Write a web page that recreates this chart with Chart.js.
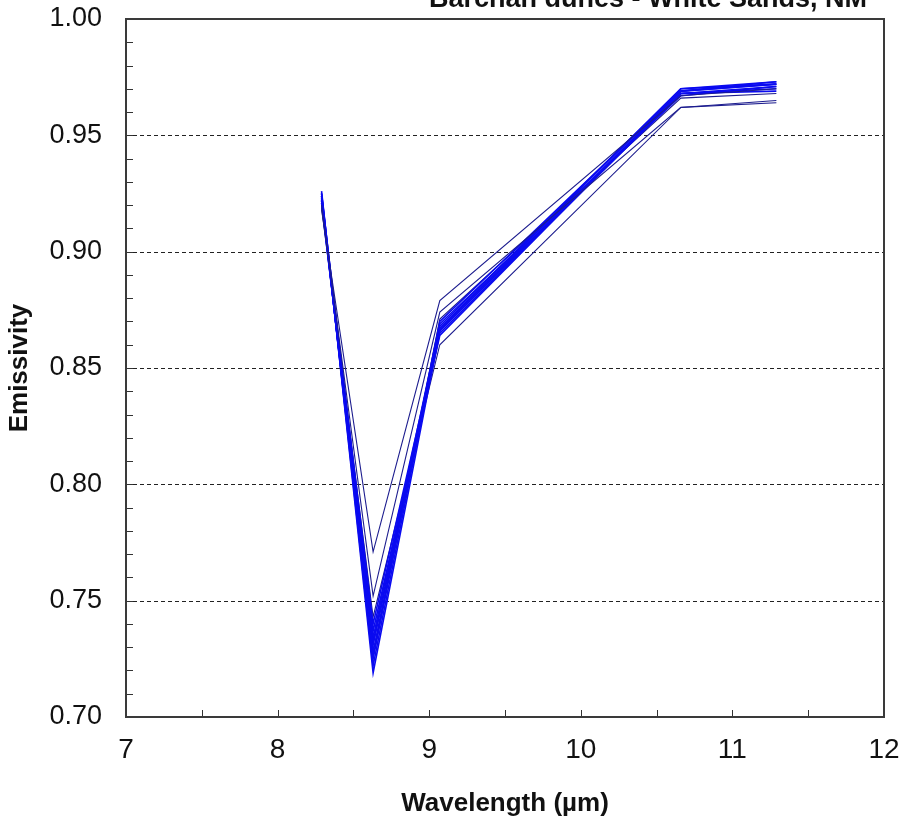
<!DOCTYPE html>
<html>
<head>
<meta charset="utf-8">
<script src="https://cdn.jsdelivr.net/npm/chart.js@4.4.1/dist/chart.umd.min.js"></script>
<style>
  html, body { margin: 0; padding: 0; background: #fff; overflow: hidden; width: 904px; height: 822px; }
  #wrap { width: 904px; height: 822px; overflow: hidden; position: relative; }
  #c { position: absolute; left: 0; top: -30px; }
</style>
</head>
<body>
<div id="wrap"><canvas id="c" width="924" height="852"></canvas></div>
<script>
// ASTER TIR band centres (µm)
const wavelengths = [8.29, 8.63, 9.07, 10.66, 11.29];

// Emissivity spectra, one per sample pixel
const spectrum01 = [0.918, 0.771, 0.879, 0.967, 0.970];
const spectrum02 = [0.920, 0.752, 0.874, 0.962, 0.964];
const spectrum03 = [0.926, 0.719, 0.866, 0.969, 0.973];
const spectrum04 = [0.925, 0.722, 0.868, 0.970, 0.972];
const spectrum05 = [0.924, 0.725, 0.870, 0.969, 0.972];
const spectrum06 = [0.923, 0.728, 0.867, 0.968, 0.971];
const spectrum07 = [0.922, 0.731, 0.865, 0.968, 0.970];
const spectrum08 = [0.921, 0.734, 0.869, 0.967, 0.971];
const spectrum09 = [0.924, 0.737, 0.864, 0.969, 0.972];
const spectrum10 = [0.922, 0.740, 0.866, 0.968, 0.969];
const spectrum11 = [0.919, 0.743, 0.860, 0.962, 0.965];
const spectrum12 = [0.923, 0.726, 0.871, 0.966, 0.968];
const spectrum13 = [0.925, 0.732, 0.867, 0.970, 0.973];

const spectra = [spectrum01, spectrum02, spectrum03, spectrum04, spectrum05, spectrum06,
                 spectrum07, spectrum08, spectrum09, spectrum10, spectrum11, spectrum12, spectrum13];
const darkSpectra = [0, 1, 10, 11];

const xTicks = [7, 8, 9, 10, 11, 12];
const yTicks = [0.70, 0.75, 0.80, 0.85, 0.90, 0.95, 1.00];

const titleText = 'Barchan dunes - White Sands, NM';
const FONT = "'Liberation Sans', Arial, sans-serif";

// Canvas is shifted 30px up, so the heading runs off the top edge
const SHIFT = 30;
const AREA = { left: 126, top: 19 + SHIFT, right: 884, bottom: 717 + SHIFT };

const datasets = spectra.map((vals, i) => ({
  data: vals.map((v, k) => ({ x: wavelengths[k], y: v })),
  borderColor: darkSpectra.includes(i) ? '#1c1c8e' : '#0a0af0',
  borderWidth: darkSpectra.includes(i) ? 1.1 : 1.6,
  pointRadius: 0,
  tension: 0,
  fill: false
}));

// Frame, dashed gridlines, inward minor ticks and the heading
const framePlugin = {
  id: 'frame',
  beforeDatasetsDraw(chart) {
    const { ctx, chartArea: a, scales: { x, y } } = chart;
    ctx.save();
    ctx.strokeStyle = '#222';
    ctx.lineWidth = 1;
    ctx.setLineDash([4, 3]);
    yTicks.slice(1, -1).forEach(v => {
      const py = Math.round(y.getPixelForValue(v)) + 0.5;
      ctx.beginPath(); ctx.moveTo(a.left, py); ctx.lineTo(a.right, py); ctx.stroke();
    });
    ctx.setLineDash([]);
    ctx.strokeStyle = '#333';
    for (let i = 1; i < 30; i++) {
      const py = Math.round(y.getPixelForValue(0.70 + i * 0.01)) + 0.5;
      ctx.beginPath(); ctx.moveTo(a.left, py); ctx.lineTo(a.left + 7, py); ctx.stroke();
    }
    for (let i = 1; i < 10; i++) {
      const px = Math.round(x.getPixelForValue(7 + i * 0.5)) + 0.5;
      ctx.beginPath(); ctx.moveTo(px, a.bottom); ctx.lineTo(px, a.bottom - 7); ctx.stroke();
    }
    ctx.restore();
  },
  afterDraw(chart) {
    const { ctx, chartArea: a } = chart;
    ctx.save();
    ctx.strokeStyle = '#3a3a3a';
    ctx.lineWidth = 2;
    ctx.strokeRect(a.left, a.top, a.right - a.left, a.bottom - a.top);
    ctx.fillStyle = '#111';
    ctx.font = 'bold 27px ' + FONT;
    ctx.textAlign = 'center';
    ctx.textBaseline = 'alphabetic';
    ctx.fillText(titleText, 648, 7 + SHIFT);
    ctx.restore();
  }
};

const chart = new Chart(document.getElementById('c'), {
  type: 'line',
  data: { datasets },
  plugins: [framePlugin],
  options: {
    responsive: false,
    animation: false,
    layout: { padding: { top: 30, right: 30, bottom: 0, left: 0 } },
    plugins: { legend: { display: false }, tooltip: { enabled: false } },
    scales: {
      x: {
        type: 'linear',
        min: 7, max: 12,
        afterFit: s => { s.height = 105; },
        afterBuildTicks: s => { s.ticks = xTicks.map(v => ({ value: v })); },
        grid: { display: false },
        border: { display: false },
        ticks: {
          font: { family: FONT, size: 28 },
          color: '#111',
          padding: 8,
          maxRotation: 0,
          callback: v => String(v)
        },
        title: {
          display: true,
          text: 'Wavelength (µm)',
          font: { family: FONT, size: 26, weight: 'bold' },
          color: '#111',
          padding: { top: 0, bottom: 3 }
        }
      },
      y: {
        type: 'linear',
        min: 0.70, max: 1.00,
        afterFit: s => { s.width = 126; },
        afterBuildTicks: s => { s.ticks = yTicks.map(v => ({ value: v })); },
        grid: { display: false },
        border: { display: false },
        ticks: {
          font: { family: FONT, size: 27 },
          color: '#111',
          padding: 16,
          callback: v => Number(v).toFixed(2)
        },
        title: {
          display: true,
          text: 'Emissivity',
          font: { family: FONT, size: 26, weight: 'bold' },
          color: '#111',
          padding: { top: 4, bottom: 0 }
        }
      }
    }
  }
});

// Nudge the layout padding until the plot box sits where intended
for (let pass = 0; pass < 4; pass++) {
  const a = chart.chartArea;
  const p = chart.options.layout.padding;
  p.top += AREA.top - a.top;
  p.right += a.right - AREA.right;
  p.left += AREA.left - a.left;
  p.bottom += a.bottom - AREA.bottom;
  chart.update('none');
}
</script>
</body>
</html>
